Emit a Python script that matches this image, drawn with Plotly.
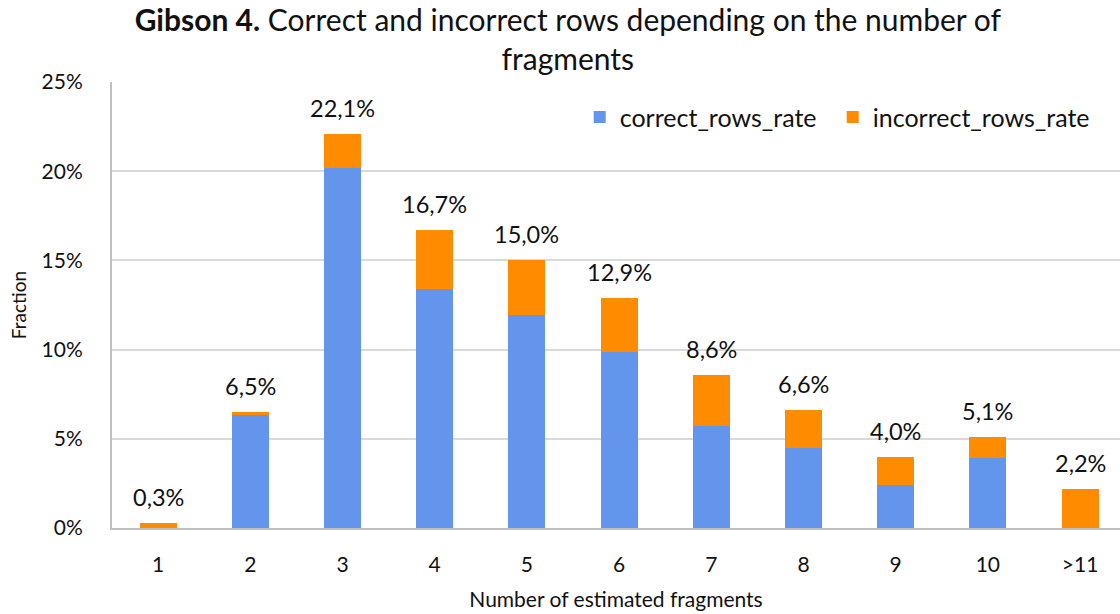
import plotly.graph_objects as go

# Share of rows per estimated fragment count (percent)
categories = ["1", "2", "3", "4", "5", "6", "7", "8", "9", "10", ">11"]
correct_rows_rate = [0.0, 6.33, 20.2, 13.4, 11.94, 9.85, 5.73, 4.5, 2.4, 3.92, 0.0]
incorrect_rows_rate = [0.3, 0.17, 1.9, 3.3, 3.06, 3.05, 2.87, 2.1, 1.6, 1.18, 2.2]
y_ticks = [0, 5, 10, 15, 20, 25]
y_tick_labels = [f"{v}%" for v in y_ticks]

totals = [c + i for c, i in zip(correct_rows_rate, incorrect_rows_rate)]
total_labels = [f"{t:.1f}".replace(".", ",") + "%" for t in totals]

FONT = "Lato"
TXT = "#111111"
BLUE = "#6495ED"
ORANGE = "#FF8C00"

fig = go.Figure()
fig.add_trace(go.Bar(
    x=categories, y=correct_rows_rate, name="correct_rows_rate",
    marker=dict(color=BLUE, line=dict(width=0)), width=0.4, legend="legend",
))
fig.add_trace(go.Bar(
    x=categories, y=incorrect_rows_rate, name="incorrect_rows_rate",
    marker=dict(color=ORANGE, line=dict(width=0)), width=0.4, legend="legend2",
))

# Total value above each stacked bar (category axis -> position by index)
for idx, (tot, lab) in enumerate(zip(totals, total_labels)):
    fig.add_annotation(
        x=idx, y=tot, xref="x", yref="y", text=lab, showarrow=False,
        yanchor="bottom", yshift=10, font=dict(family=FONT, size=23.5, color=TXT),
    )

legend_style = dict(
    orientation="h", xanchor="left", y=0.921, yanchor="middle",
    font=dict(family=FONT, size=25, color=TXT),
    bgcolor="rgba(0,0,0,0)", itemwidth=30,
)

fig.update_layout(
    width=1120, height=614,
    margin=dict(l=112, r=0, t=82, b=86),
    paper_bgcolor="white", plot_bgcolor="white",
    barmode="stack",
    font=dict(family=FONT, color=TXT),
    title=dict(
        text="<b>Gibson 4.</b> Correct and incorrect rows depending on the number of<br>fragments",
        x=0.507, xref="container", xanchor="center",
        y=0.949, yref="container", yanchor="top",
        font=dict(family=FONT, size=30, color=TXT),
    ),
    legend=dict(x=0.464, **legend_style),
    legend2=dict(x=0.715, **legend_style),
    showlegend=True,
)

fig.update_xaxes(
    type="category", range=[-0.5, 10.433],
    showgrid=False, showline=True, linecolor="#BFBFBF", linewidth=2,
    ticks="", ticklabelstandoff=17,
    tickfont=dict(family=FONT, size=21, color=TXT),
    title=dict(text="Number of estimated fragments", standoff=17,
               font=dict(family=FONT, size=21, color=TXT)),
)
fig.update_yaxes(
    range=[0, 25], tickvals=y_ticks, ticktext=y_tick_labels,
    showgrid=True, gridcolor="#D9D9D9", gridwidth=1.5,
    showline=True, linecolor="#BFBFBF", linewidth=2,
    zeroline=False, ticks="", ticklabelstandoff=23,
    tickfont=dict(family=FONT, size=21, color=TXT),
    title=dict(text="Fraction", standoff=10,
               font=dict(family=FONT, size=19, color=TXT)),
)

fig.write_html("out.html")
